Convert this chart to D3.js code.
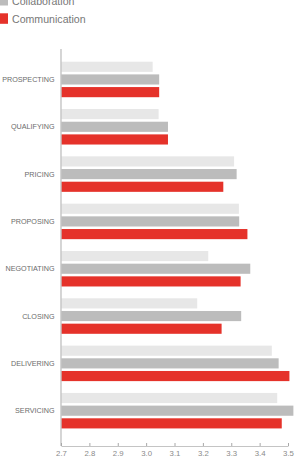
<!DOCTYPE html>
<html lang="en">
  <head>
    <meta charset="utf-8" />
    <title>Sales stages</title>
    <script src="https://d3js.org/d3.v7.min.js"></script>
    <style type="text/css">
      body {
        margin: 0;
        background: #fff;
        font-family: "Liberation Sans", Arial, Helvetica, sans-serif;
      }
      svg {
        display: block;
      }
    </style>
  </head>
  <body>
    <svg id="chart" width="297" height="462"></svg>

    <script type="text/javascript">
      // stages, top to bottom
      const stages = ["PROSPECTING", "QUALIFYING", "PRICING", "PROPOSING",
                      "NEGOTIATING", "CLOSING", "DELIVERING", "SERVICING"];
      // three series per stage (first one's legend entry is cut off above the picture)
      const seriesKeys = ["first", "Collaboration", "Communication"];
      const firstValues = [3.023, 3.044, 3.310, 3.327, 3.219, 3.180, 3.443, 3.462];
      const collaborationValues = [3.046, 3.077, 3.319, 3.328, 3.367, 3.335, 3.467, 3.519];
      const communicationValues = [3.046, 3.077, 3.272, 3.357, 3.333, 3.266, 3.505, 3.478];
      const legendLabels = ["Collaboration", "Communication"];
      const xTicks = [2.7, 2.8, 2.9, 3.0, 3.1, 3.2, 3.3, 3.4, 3.5];

      const colors = d3.scaleOrdinal()
            .domain(seriesKeys)
            .range(["#e7e7e7", "#bcbcbc", "#e5322a"]);

      const svg = d3.select("#chart");

      // build rows for the bars
      const allValues = [firstValues, collaborationValues, communicationValues];
      const rows = stages.map((s, i) => ({
        stage: s,
        vals: seriesKeys.map((k, j) => ({key: k, value: allValues[j][i]}))
      }));

      const x = d3.scaleLinear()
            .domain([2.7, 3.5])
            .range([61, 288]);

      const y = d3.scaleBand()
            .domain(stages)
            .range([49, 446])
            .paddingInner(0.25)
            .paddingOuter(0.32)
            .align(0.42);

      const ySub = d3.scaleBand()
            .domain(seriesKeys)
            .range([0, y.bandwidth()])
            .paddingInner(0.2);

      // bars
      const groups = svg.selectAll("g.stage")
            .data(rows)
            .enter()
            .append("g")
            .attr("class", "stage")
            .attr("transform", d => `translate(0,${y(d.stage)})`);

      groups.selectAll("rect")
            .data(d => d.vals)
            .enter()
            .append("rect")
            .attr("x", x(2.7))
            .attr("y", d => ySub(d.key))
            .attr("width", d => x(d.value) - x(2.7))
            .attr("height", ySub.bandwidth())
            .attr("fill", d => colors(d.key));

      // stage labels
      svg.selectAll("text.stage")
            .data(stages)
            .enter()
            .append("text")
            .attr("class", "stage")
            .attr("x", 54.5)
            .attr("y", d => y(d) + ySub("Collaboration") + ySub.bandwidth() / 2)
            .attr("dy", "0.35em")
            .attr("text-anchor", "end")
            .attr("font-size", "7.2px")
            .attr("fill", "#6b6b6b")
            .text(d => d);

      // vertical axis line
      svg.append("line")
            .attr("x1", x(2.7))
            .attr("x2", x(2.7))
            .attr("y1", y.range()[0])
            .attr("y2", y.range()[1])
            .attr("stroke", "#c4c4c4")
            .attr("stroke-width", 1.4);

      // bottom axis
      const xAxis = d3.axisBottom(x)
            .tickValues(xTicks)
            .tickFormat(d3.format(".1f"))
            .tickSizeInner(-3)
            .tickSizeOuter(0)
            .tickPadding(4);

      const gx = svg.append("g")
            .attr("transform", `translate(0,${y.range()[1]})`)
            .call(xAxis);
      gx.select(".domain").attr("stroke", "#c4c4c4");
      gx.selectAll(".tick line").attr("stroke", "#a8a8a8");
      gx.selectAll(".tick text")
            .attr("fill", "#8a8a8a")
            .attr("font-size", "7.8px")
            .attr("font-family", "Liberation Sans, Arial, sans-serif");

      // legend (top entry sits above the visible area)
      const legend = svg.selectAll("g.legend")
            .data(legendLabels)
            .enter()
            .append("g")
            .attr("class", "legend")
            .attr("transform", (d, i) => `translate(0,${i * 18.3})`);
      legend.append("rect")
            .attr("x", -2)
            .attr("y", -5)
            .attr("width", 10)
            .attr("height", 10.5)
            .attr("fill", d => colors(d));
      legend.append("text")
            .attr("x", 12)
            .attr("y", 5)
            .attr("font-size", "10.6px")
            .attr("fill", "#777")
            .text(d => d);
    </script>
  </body>
</html>
